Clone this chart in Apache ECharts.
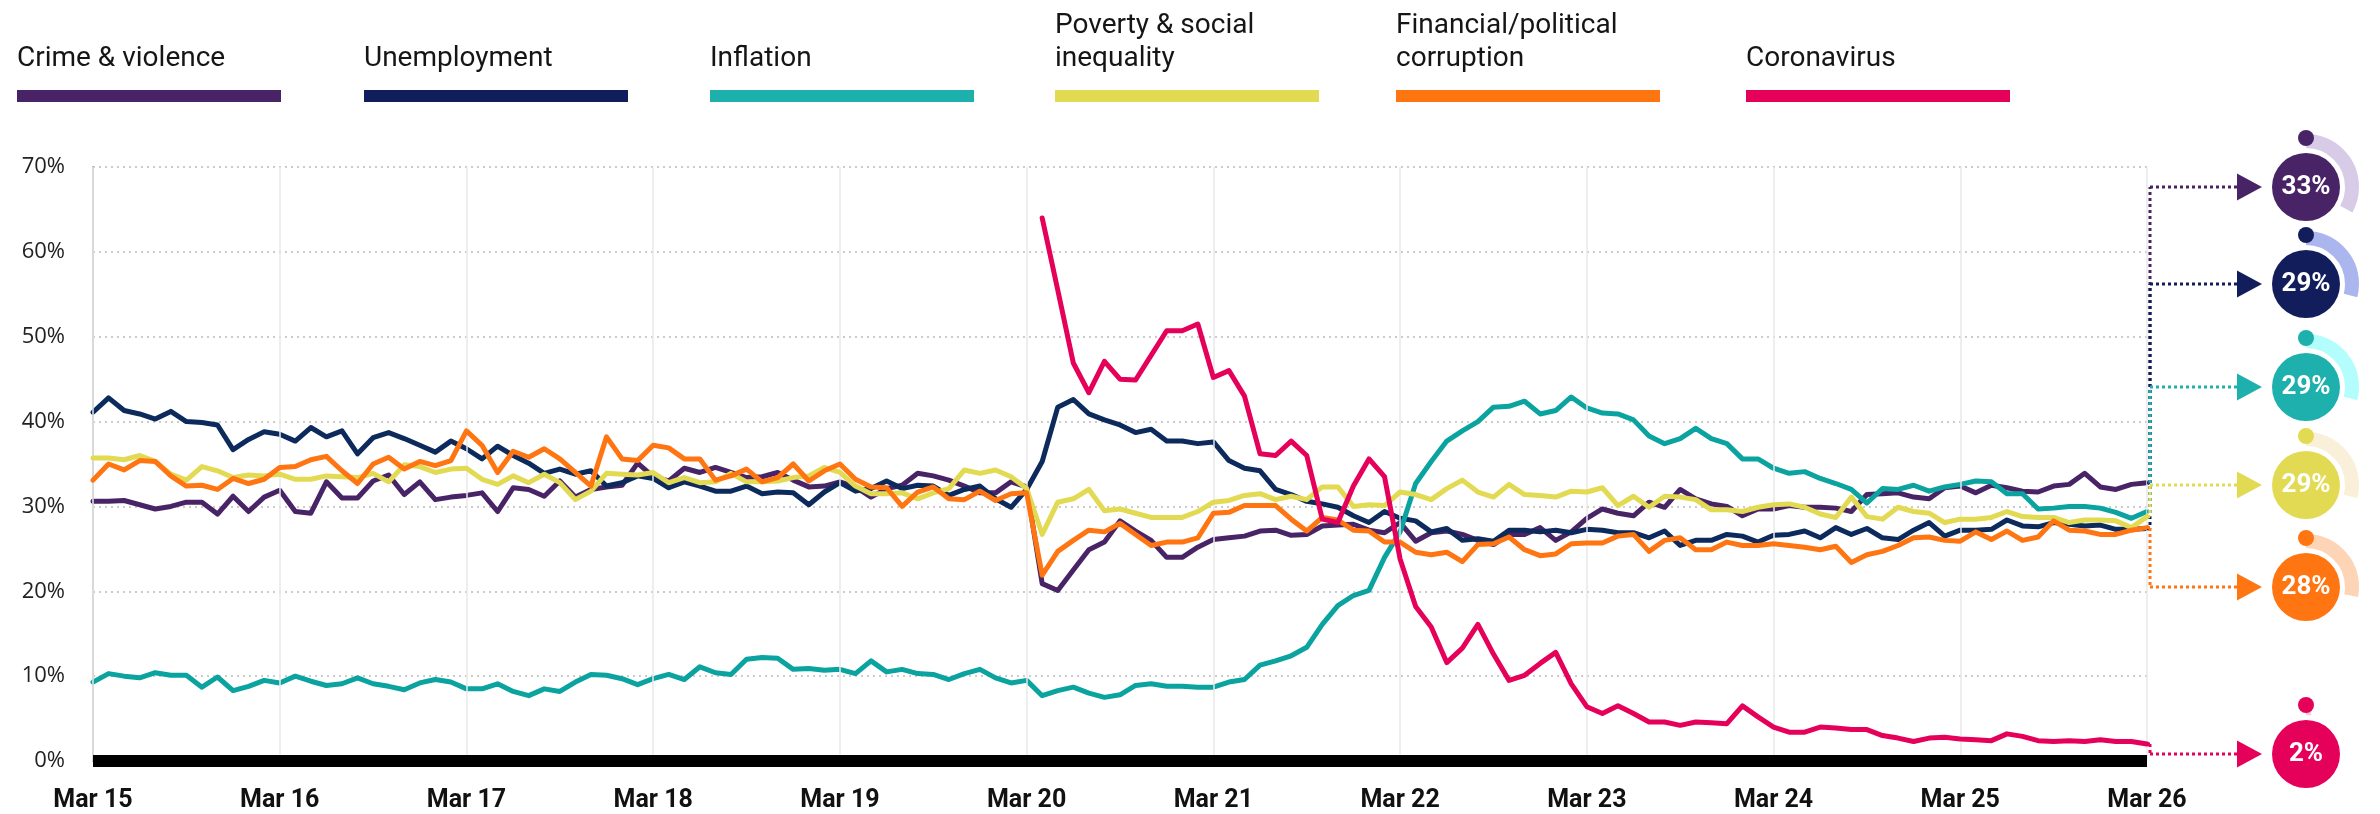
<!DOCTYPE html>
<html><head><meta charset="utf-8">
<script src="https://cdn.jsdelivr.net/npm/echarts@6/dist/echarts.min.js"></script>
<style>html,body{margin:0;padding:0;background:#fff}#c{width:2380px;height:814px}</style>
</head><body><div id="c"></div>
<script>
// ---------- DATA ----------
const seriesNames = ['Crime & violence','Unemployment','Inflation','Poverty & social inequality','Financial/political corruption','Coronavirus'];
const legendLabels = ['Crime & violence','Unemployment','Inflation','Poverty & social\ninequality','Financial/political\ncorruption','Coronavirus'];
const xTickLabels = ['Mar 15','Mar 16','Mar 17','Mar 18','Mar 19','Mar 20','Mar 21','Mar 22','Mar 23','Mar 24','Mar 25','Mar 26'];
const yTickValues = [0,10,20,30,40,50,60,70];
const startYear = 2015, startMonth = 3, monthCount = 133;

const crime = [30.6,30.6,30.7,30.2,29.7,30.0,30.5,30.5,29.1,31.2,29.4,31.1,31.9,29.4,29.2,32.9,31.0,31.0,33.0,33.7,31.4,32.9,30.8,31.1,
31.3,31.6,29.4,32.2,32.0,31.2,33.0,31.1,32.0,32.3,32.5,35.1,33.5,33.0,34.5,34.0,34.6,34.0,33.4,33.5,34.0,33.1,32.3,32.4,
32.9,32.3,31.1,32.1,32.5,33.9,33.6,33.1,32.4,31.6,31.6,32.9,32.3,20.9,20.1,22.5,24.9,25.8,28.3,27.1,26.0,24.0,24.0,25.2,
26.1,26.3,26.5,27.1,27.2,26.6,26.7,27.7,27.8,27.9,27.2,26.9,28.1,25.9,26.9,27.1,26.7,26.0,25.5,26.7,26.7,27.5,26.0,27.0,
28.6,29.7,29.2,28.9,30.5,29.9,32.0,30.9,30.3,30.0,28.9,29.7,29.7,30.1,29.9,29.9,29.8,29.4,31.4,31.5,31.6,31.1,30.9,32.2,
32.4,31.6,32.5,32.2,31.8,31.7,32.4,32.6,33.9,32.3,32.0,32.6,32.8];
const unemployment = [41.1,42.8,41.3,40.9,40.3,41.2,40.0,39.9,39.6,36.7,37.9,38.8,38.5,37.7,39.3,38.2,38.9,36.2,38.1,38.7,38.0,37.2,36.4,37.7,
36.8,35.6,37.1,36.0,35.1,33.9,34.4,33.8,34.2,32.4,32.8,33.6,33.3,32.2,32.9,32.4,31.8,31.8,32.4,31.5,31.7,31.6,30.2,31.7,
32.8,31.8,32.1,33.0,32.1,32.5,32.4,31.3,32.0,32.4,30.9,29.9,32.0,35.3,41.7,42.6,40.9,40.2,39.6,38.7,39.1,37.7,37.7,37.4,
37.6,35.4,34.5,34.2,32.0,31.4,30.6,30.3,29.9,28.9,28.1,29.4,28.6,28.3,27.0,27.4,26.0,26.2,25.9,27.2,27.2,27.0,27.2,26.9,
27.3,27.2,26.9,26.9,26.3,27.1,25.4,26.0,26.0,26.7,26.5,25.8,26.6,26.7,27.1,26.3,27.5,26.7,27.4,26.3,26.1,27.2,28.1,26.5,
27.2,27.2,27.3,28.4,27.7,27.6,28.1,27.9,27.7,27.8,27.3,27.3,27.4];
const inflation = [9.3,10.3,10.0,9.8,10.4,10.1,10.1,8.7,9.9,8.3,8.8,9.5,9.2,10.0,9.4,8.9,9.1,9.8,9.1,8.8,8.4,9.2,9.6,9.3,
8.5,8.5,9.1,8.2,7.7,8.5,8.2,9.3,10.2,10.1,9.7,9.0,9.7,10.2,9.6,11.1,10.4,10.2,12.0,12.2,12.1,10.8,10.9,10.7,
10.8,10.3,11.8,10.5,10.8,10.3,10.2,9.6,10.3,10.8,9.8,9.2,9.5,7.7,8.3,8.7,8.0,7.5,7.8,8.9,9.1,8.8,8.8,8.7,
8.7,9.3,9.6,11.3,11.8,12.4,13.4,16.1,18.3,19.5,20.1,24.0,27.0,32.7,35.3,37.7,38.9,40.0,41.7,41.8,42.4,40.9,41.3,42.9,
41.6,41.0,40.9,40.2,38.3,37.4,38.0,39.2,38.0,37.4,35.6,35.6,34.5,33.9,34.1,33.3,32.7,32.0,30.4,32.1,32.0,32.5,31.8,32.3,
32.6,33.0,32.9,31.5,31.5,29.7,29.8,30.0,30.0,29.8,29.3,28.6,29.4];
const poverty = [35.7,35.7,35.5,36.0,35.3,33.8,33.1,34.7,34.2,33.4,33.7,33.6,33.8,33.2,33.2,33.6,33.5,33.4,33.9,32.9,34.9,34.7,34.0,34.4,
34.5,33.2,32.6,33.6,32.8,33.8,32.8,30.8,31.8,33.9,33.8,33.7,34.0,32.8,33.4,32.8,32.9,33.9,32.9,32.9,33.0,33.4,33.6,34.6,
34.0,32.4,31.5,31.5,31.6,30.9,31.6,32.1,34.3,33.9,34.3,33.5,32.1,26.7,30.5,30.9,32.0,29.5,29.7,29.2,28.7,28.7,28.7,29.4,
30.5,30.7,31.3,31.5,30.8,31.2,30.8,32.3,32.3,30.0,30.2,30.1,31.7,31.4,30.8,32.1,33.1,31.7,31.1,32.6,31.4,31.3,31.1,31.8,
31.7,32.2,30.1,31.2,29.9,31.2,31.1,30.8,29.6,29.6,29.4,29.9,30.2,30.3,29.9,29.1,28.7,31.1,28.8,28.5,29.9,29.4,29.2,28.1,
28.5,28.5,28.7,29.4,28.8,28.7,28.7,28.1,28.4,28.4,28.3,27.5,28.8];
const financial = [33.1,35.0,34.3,35.4,35.3,33.6,32.4,32.5,32.0,33.3,32.7,33.2,34.6,34.7,35.5,35.9,34.2,32.7,35.0,35.8,34.4,35.3,34.8,35.4,
38.9,37.2,34.0,36.5,35.8,36.8,35.6,34.0,32.4,38.2,35.6,35.4,37.2,36.9,35.6,35.6,33.1,33.6,34.4,32.9,33.4,35.0,33.0,34.2,
35.0,33.2,32.3,32.2,30.0,31.7,32.3,30.9,30.8,31.8,30.7,31.5,31.6,21.9,24.7,26.0,27.2,27.0,28.0,26.7,25.4,25.8,25.8,26.3,
29.2,29.3,30.1,30.1,30.1,28.5,27.1,28.7,28.4,27.2,27.1,25.8,25.8,24.6,24.3,24.6,23.5,25.5,25.6,26.4,24.9,24.2,24.4,25.6,
25.7,25.7,26.5,26.7,24.7,26.0,26.3,24.9,24.9,25.8,25.4,25.4,25.6,25.4,25.2,24.9,25.3,23.4,24.3,24.7,25.4,26.3,26.4,26.0,
25.9,27.0,26.1,27.1,26.0,26.4,28.3,27.2,27.1,26.7,26.7,27.2,27.5];
const coronavirusStartIndex = 61;
const coronavirus = [64.0,55.5,46.9,43.4,47.1,45.0,44.9,47.8,50.7,50.7,51.5,
45.2,46.0,43.0,36.2,36.0,37.7,36.0,28.5,28.1,32.4,35.6,33.5,23.8,18.2,15.8,11.6,13.3,16.1,12.6,9.5,10.1,11.5,12.8,9.1,
6.4,5.6,6.5,5.6,4.6,4.6,4.2,4.6,4.5,4.4,6.5,5.2,4.0,3.4,3.4,4.0,3.9,3.7,3.7,3.0,2.7,2.3,2.7,2.8,
2.6,2.5,2.4,3.2,2.9,2.4,2.3,2.4,2.3,2.5,2.3,2.3,2.0];
const bubbleLabels = ['33%','29%','29%','29%','28%','2%'];
const bubbleValues = [33,29,29,29,28,2];

// ---------- STYLE ----------
const colors = ['#482466','#121d5b','#1eb0ad','#e2da52','#ff7512','#e5005a'];
const lineColors = ['#482466','#0c2a5c','#0aa39f','#e2da52','#ff7512','#e5005a'];
const lightColors = ['#d8cbe8','#abb5ee','#b3fdfd','#faf0da','#fdd4b6','#f9c9da'];
const legendX = [17, 364, 710, 1055, 1396, 1746];
const bubbleY = [187, 284, 387, 485, 587, 754];
const bubbleX = 2306;

const months = [];
for (let k = 0; k < monthCount; k++) {
  const m = (startMonth - 1 + k) % 12 + 1, y = startYear + Math.floor((startMonth - 1 + k) / 12);
  months.push(y + '-' + (m < 10 ? '0' + m : m));
}
const padded = new Array(coronavirusStartIndex).fill(null).concat(coronavirus);
const allData = [crime, unemployment, inflation, poverty, financial, padded];

const chart = echarts.init(document.getElementById('c'));
const FONT = 'Roboto, "Liberation Sans", sans-serif';

const option = {
  animation: false,
  backgroundColor: '#fff',
  grid: { left: 93, right: 233, top: 167, bottom: 53, containLabel: false },
  xAxis: {
    type: 'category', data: months, boundaryGap: false,
    axisLine: { show: true, lineStyle: { color: '#000', width: 12, cap: 'butt' } },
    axisTick: { show: false, interval: 11 },
    axisLabel: { interval: 11, margin: 27, fontSize: 25, fontWeight: 'bold', color: '#111', fontFamily: FONT,
      formatter: (v, idx) => xTickLabels[Math.round(idx / 12)] },
    splitLine: { show: true, interval: 11, lineStyle: { color: '#e8e8e8', width: 1.5 } },
    z: 5
  },
  yAxis: {
    type: 'value', min: yTickValues[0], max: yTickValues[yTickValues.length - 1], interval: 10,
    axisLine: { show: true, lineStyle: { color: '#aaaaaa', width: 2 } },
    axisTick: { show: false },
    axisLabel: { margin: 28, fontSize: 22, color: '#222', fontFamily: '"Open Sans", sans-serif', formatter: '{value}%' },
    splitLine: { show: true, lineStyle: { color: '#cccccc', width: 2, type: [2, 4] } }
  },
  series: allData.map((d, i) => ({
    name: seriesNames[i], type: 'line', data: d, symbol: 'none', connectNulls: false,
    lineStyle: { color: lineColors[i], width: 5, cap: 'round', join: 'round' },
    z: 2 + i
  }))
};
chart.setOption(option);

// ---------- ANNOTATIONS ----------
const g = [];
legendLabels.forEach((t, i) => {
  const x = legendX[i];
  g.push({ type: 'text', x: x, y: 75, style: { text: t, fill: '#151515', font: '28px ' + FONT, lineHeight: 33, verticalAlign: 'bottom', align: 'left' } });
  g.push({ type: 'rect', shape: { x: x, y: 90, width: 264, height: 12 }, style: { fill: colors[i] } });
});

const lastIdx = monthCount - 1;
const vx = 2150, arrowX = 2237, P = 6;
allData.forEach((d, i) => {
  const p = chart.convertToPixel({ gridIndex: 0 }, [lastIdx, d[lastIdx]]);
  const ty = bubbleY[i];
  const y0 = Math.min(p[1], ty), y1 = Math.max(p[1], ty);
  const dotted = { stroke: colors[i], lineWidth: 3, lineDash: [3, 3], fill: null };
  g.push({ type: 'line', shape: { x1: p[0], y1: p[1], x2: vx, y2: p[1] }, style: Object.assign({}, dotted), z: 20 + i });
  g.push({ type: 'line', shape: { x1: vx, y1: y0, x2: vx, y2: y1 }, style: Object.assign({ lineDashOffset: y0 % P }, dotted), z: 20 + i });
  g.push({ type: 'line', shape: { x1: vx, y1: ty, x2: arrowX, y2: ty }, style: Object.assign({}, dotted), z: 20 + i });
  g.push({ type: 'polygon', shape: { points: [[arrowX, ty - 13.5], [arrowX + 25, ty], [arrowX, ty + 13.5]] }, style: { fill: colors[i] }, z: 30 });
  const a0 = -Math.PI / 2, a1 = a0 + bubbleValues[i] / 100 * Math.PI * 2;
  g.push({ type: 'arc', shape: { cx: bubbleX, cy: ty, r: 46, startAngle: a0, endAngle: a1, clockwise: true },
    style: { stroke: lightColors[i], lineWidth: 14, fill: null }, z: 30 });
  g.push({ type: 'circle', shape: { cx: bubbleX, cy: ty - 49, r: 8 }, style: { fill: colors[i] }, z: 31 });
  g.push({ type: 'circle', shape: { cx: bubbleX, cy: ty, r: 34 }, style: { fill: colors[i] }, z: 31 });
  g.push({ type: 'text', x: bubbleX, y: ty, style: { text: bubbleLabels[i], fill: '#fff', font: 'bold 26px ' + FONT, align: 'center', verticalAlign: 'middle' }, z: 32 });
});
chart.setOption({ graphic: g });
</script>
</body></html>
